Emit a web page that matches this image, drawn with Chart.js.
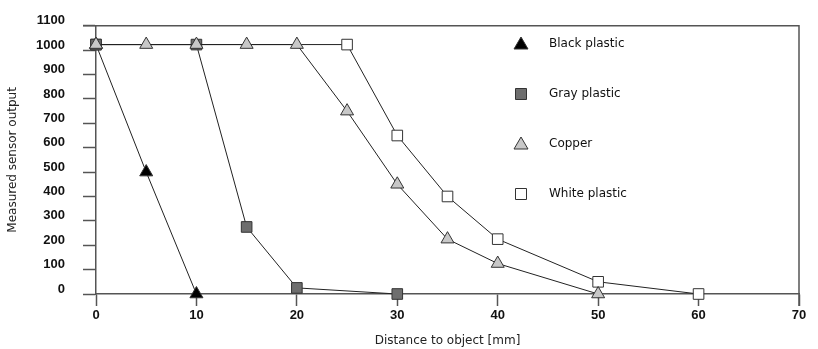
<!DOCTYPE html>
<html>
<head>
<meta charset="utf-8">
<script src="https://cdn.jsdelivr.net/npm/chart.js@4.4.1/dist/chart.umd.min.js"></script>
<style>
  html, body { margin: 0; padding: 0; background: #fff; }
</style>
</head>
<body>
<canvas id="sensorChart" width="818" height="349"></canvas>
<script>
// series data: distance [mm] vs measured output
const seriesNames = ["Black plastic", "Gray plastic", "Copper", "White plastic"];
const blackX  = [0, 5, 10];
const blackY  = [1023, 500, 0];
const grayX   = [0, 10, 15, 20, 30];
const grayY   = [1023, 1023, 275, 25, 0];
const copperX = [0, 5, 10, 15, 20, 25, 30, 35, 40, 50];
const copperY = [1023, 1023, 1023, 1023, 1023, 750, 450, 225, 125, 0];
const whiteX  = [0, 25, 30, 35, 40, 50, 60];
const whiteY  = [1023, 1023, 650, 400, 225, 50, 0];

const xTicks = [0, 10, 20, 30, 40, 50, 60, 70];
const yTicks = [0, 100, 200, 300, 400, 500, 600, 700, 800, 900, 1000, 1100];

const AXIS = "#555";
const LINE = "#222";

function pts(xs, ys) {
    return xs.map(function (x, i) { return { x: x, y: ys[i] }; });
}

function series(i, xs, ys, style, fill, order) {
    return {
        label: seriesNames[i],
        data: pts(xs, ys),
        borderColor: LINE,
        borderWidth: 1,
        pointStyle: style,
        pointRadius: 7.5,
        pointBackgroundColor: fill,
        pointBorderColor: "#333",
        pointBorderWidth: 1,
        tension: 0,
        clip: false,
        order: order
    };
}

// frame around plot + custom legend inside the plot
const framePlugin = {
    id: "frame",
    beforeDatasetsDraw(chart) {
        const a = chart.chartArea, c = chart.ctx;
        c.save();
        c.strokeStyle = AXIS;
        c.lineWidth = 1.5;
        c.beginPath();
        c.moveTo(a.left - 13, a.top);
        c.lineTo(a.right, a.top);
        c.lineTo(a.right, a.bottom + 12);
        c.stroke();
        c.restore();
    },
    afterDatasetsDraw(chart) {
        const c = chart.ctx;
        const rows = [44, 94, 144, 194];
        c.save();
        chart.data.datasets.forEach(function (ds, i) {
            const x = 521, y = rows[i];
            c.fillStyle = ds.pointBackgroundColor;
            c.strokeStyle = ds.pointBorderColor;
            c.lineWidth = 1;
            c.beginPath();
            if (ds.pointStyle === "triangle") {
                c.moveTo(x, y - 7);
                c.lineTo(x + 7, y + 5);
                c.lineTo(x - 7, y + 5);
                c.closePath();
            } else {
                c.rect(x - 5.5, y - 5.5, 11, 11);
            }
            c.fill();
            c.stroke();
            c.fillStyle = "#111";
            c.font = "12px 'DejaVu Sans'";
            c.textBaseline = "middle";
            c.fillText(ds.label, 549, y);
        });
        c.restore();
    }
};

const ctx = document.getElementById("sensorChart").getContext("2d");

new Chart(ctx, {
    type: "line",
    data: {
        datasets: [
            series(0, blackX, blackY, "triangle", "#000", 3),
            series(1, grayX, grayY, "rect", "#6e6e6e", 1),
            series(2, copperX, copperY, "triangle", "#c8c8c8", 0),
            series(3, whiteX, whiteY, "rect", "#fff", 2)
        ]
    },
    options: {
        responsive: false,
        animation: false,
        devicePixelRatio: 1,
        layout: { padding: { top: 17, right: 19, bottom: 0, left: 0 } },
        plugins: {
            legend: { display: false },
            tooltip: { enabled: false }
        },
        scales: {
            x: {
                type: "linear",
                min: 0,
                max: 70,
                afterBuildTicks: function (s) { s.ticks = xTicks.map(function (v) { return { value: v }; }); },
                afterFit: function (s) { s.height = 55; },
                grid: { drawOnChartArea: false, tickLength: 12, tickColor: AXIS, tickWidth: 1.5 },
                border: { color: AXIS, width: 1.5 },
                ticks: {
                    color: "#111",
                    padding: 2,
                    maxRotation: 0,
                    callback: function (v) { return String(v); },
                    font: { family: "'Liberation Sans'", size: 13, weight: "bold" }
                },
                title: {
                    display: true,
                    text: "Distance to object [mm]",
                    color: "#222",
                    padding: { top: 0, bottom: 1 },
                    font: { family: "'DejaVu Sans'", size: 12 }
                }
            },
            y: {
                min: 0,
                max: 1100,
                afterBuildTicks: function (s) { s.ticks = yTicks.map(function (v) { return { value: v }; }); },
                afterFit: function (s) { s.width = 96; },
                grid: { drawOnChartArea: false, tickLength: 13, tickColor: AXIS, tickWidth: 1.5 },
                border: { color: AXIS, width: 1.5 },
                ticks: {
                    color: "#111",
                    padding: 18,
                    labelOffset: -5,
                    callback: function (v) { return String(v); },
                    font: { family: "'Liberation Sans'", size: 13, weight: "bold" }
                },
                title: {
                    display: true,
                    text: "Measured sensor output",
                    color: "#222",
                    padding: { top: 6, bottom: 0 },
                    font: { family: "'DejaVu Sans'", size: 12 }
                }
            }
        }
    },
    plugins: [framePlugin]
});
</script>
</body>
</html>
